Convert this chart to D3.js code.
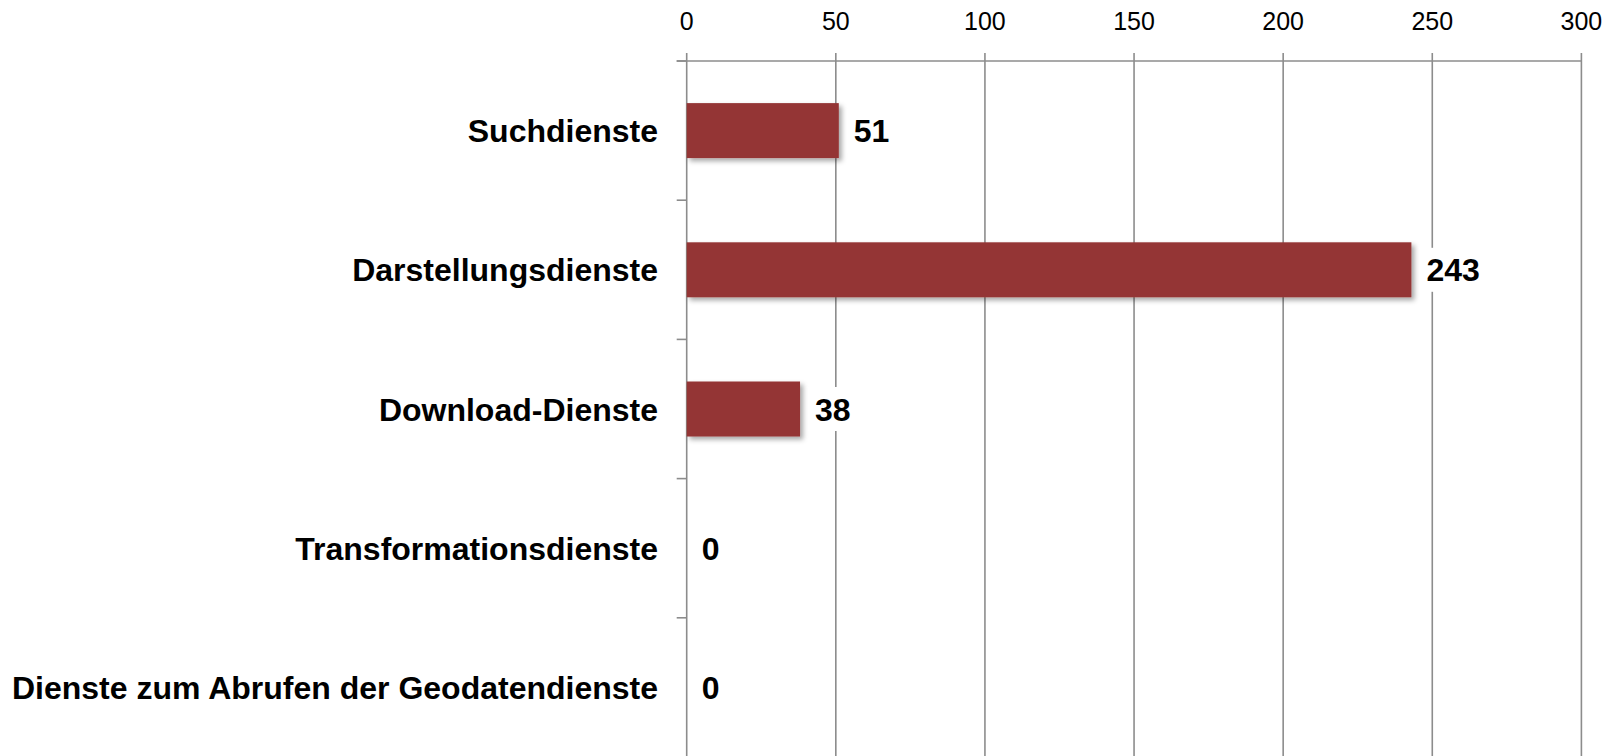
<!DOCTYPE html>
<html>
<head>
<meta charset="utf-8">
<script src="https://cdn.jsdelivr.net/npm/d3@7"></script>
<style>
  html, body { margin: 0; padding: 0; background: #fff; }
  svg { display: block; }
  text { font-family: "Liberation Sans", Arial, sans-serif; fill: #000; }
</style>
</head>
<body>
<svg id="chart" width="1621" height="756"></svg>
<script>
const categories = [
  "Suchdienste",
  "Darstellungsdienste",
  "Download-Dienste",
  "Transformationsdienste",
  "Dienste zum Abrufen der Geodatendienste"
];
const values = [51, 243, 38, 0, 0];
const xTicks = [0, 50, 100, 150, 200, 250, 300];

const svg = d3.select("#chart");
const W = 1621, H = 756;

const x = d3.scaleLinear().domain([0, 300]).range([686.7, 1581.4]);
const y = d3.scaleBand().domain(categories).range([61, 757])
  .paddingInner(0.605).paddingOuter(0.3025);

const step = y.step();
const bw = y.bandwidth();
const gap = (step - bw) / 2;

// shadow filter
const defs = svg.append("defs");
const f = defs.append("filter").attr("id", "shadow")
  .attr("x", "-10%").attr("y", "-30%").attr("width", "130%").attr("height", "170%");
f.append("feDropShadow").attr("dx", 3).attr("dy", 3).attr("stdDeviation", 2.5)
  .attr("flood-color", "#000").attr("flood-opacity", 0.35);

const gridColor = "#8c8c8c";

// gridlines
svg.append("g").selectAll("line").data(xTicks).join("line")
  .attr("x1", d => x(d)).attr("x2", d => x(d))
  .attr("y1", 53).attr("y2", H + 5)
  .attr("stroke", gridColor).attr("stroke-width", 1.6);

// top axis line
svg.append("line")
  .attr("x1", x(0) - 10).attr("x2", x(300))
  .attr("y1", 61).attr("y2", 61)
  .attr("stroke", gridColor).attr("stroke-width", 1.6);

// category tick marks at band boundaries
const bounds = categories.map(c => y(c) - gap).concat([y(categories[categories.length - 1]) + bw + gap]);
svg.append("g").selectAll("line").data(bounds).join("line")
  .attr("x1", x(0) - 10).attr("x2", x(0))
  .attr("y1", d => d).attr("y2", d => d)
  .attr("stroke", gridColor).attr("stroke-width", 1.6);

// x tick labels
svg.append("g").selectAll("text").data(xTicks).join("text")
  .attr("x", d => x(d)).attr("y", 30)
  .attr("text-anchor", "middle")
  .style("font-size", "25px")
  .text(d => d);

// category labels
svg.append("g").selectAll("text").data(categories).join("text")
  .attr("x", 658).attr("y", d => y(d) + bw / 2 + 11.5)
  .attr("text-anchor", "end")
  .style("font-size", "32px").style("font-weight", "bold")
  .text(d => d);

// bars
const data = categories.map((c, i) => ({ c, v: values[i] }));
svg.append("g").selectAll("rect").data(data.filter(d => d.v > 0)).join("rect")
  .attr("x", x(0)).attr("y", d => y(d.c))
  .attr("width", d => x(d.v) - x(0)).attr("height", bw)
  .attr("fill", "#943634")
  .attr("filter", "url(#shadow)");

// value labels with white background
const lg = svg.append("g");
data.forEach(d => {
  const g = lg.append("g");
  const t = g.append("text")
    .attr("x", x(d.v) + 15).attr("y", y(d.c) + bw / 2 + 11.5)
    .style("font-size", "32px").style("font-weight", "bold")
    .text(d.v);
  const bb = t.node().getBBox();
  g.insert("rect", "text")
    .attr("x", x(d.v) + 8).attr("y", y(d.c) + bw / 2 - 22)
    .attr("width", bb.width + 14).attr("height", 44)
    .attr("fill", "#fff");
});
</script>
</body>
</html>
